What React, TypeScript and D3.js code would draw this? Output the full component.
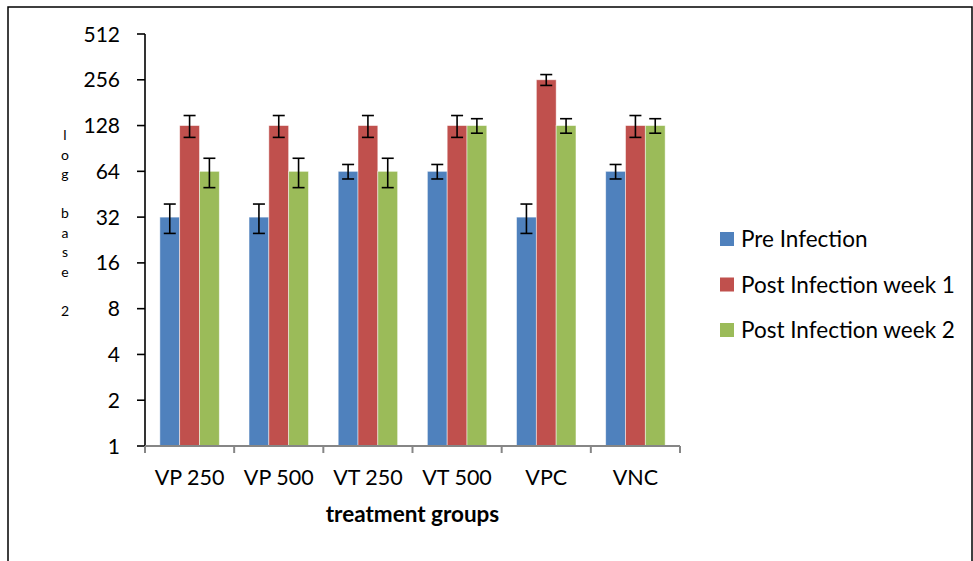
import React, { useEffect, useRef } from 'react';
import * as d3 from 'd3';

const categories = ['VP 250', 'VP 500', 'VT 250', 'VT 500', 'VPC', 'VNC'];
const seriesNames = ['Pre Infection', 'Post Infection week 1', 'Post Infection week 2'];
const preInfection = [32, 32, 64, 64, 32, 64];
const postWeek1 = [128, 128, 128, 128, 256, 128];
const postWeek2 = [64, 64, 64, 128, 128, 128];
const errPre = [7, 7, 7, 7, 7, 7];
const errWeek1 = [21, 21, 21, 21, 21, 21];
const errWeek2 = [14, 14, 14, 14, 14, 14];
const yTicks = [1, 2, 4, 8, 16, 32, 64, 128, 256, 512];
const yTitleLetters = ['l', 'o', 'g', '', 'b', 'a', 's', 'e', '', '2'];
const colors = ['#4F81BD', '#C0504D', '#9BBB59'];

const FONT = 'Lato, "Open Sans", sans-serif';

const App: React.FC = () => {
    const svgRef = useRef<SVGSVGElement>(null);

    useEffect(() => {
        if (!svgRef.current) return;
        const svg = d3.select(svgRef.current);
        svg.selectAll('*').remove();

        const left = 145;
        const right = 680;
        const top = 34;
        const bottom = 446;

        // outer frame, right/bottom run off the page
        svg.append('rect')
            .attr('x', 8)
            .attr('y', 7)
            .attr('width', 964)
            .attr('height', 620)
            .attr('fill', 'none')
            .attr('stroke', '#000')
            .attr('stroke-width', 1.5);

        const y = d3.scaleLog().base(2).domain([1, 512]).range([bottom, top]);
        const x0 = d3.scaleBand<string>().domain(categories).range([left, right]).padding(0);
        const bw = x0.bandwidth();
        const groupW = bw * 3 / 4.5;
        const off = bw * 0.75 / 4.5;
        const x1 = d3.scaleBand<string>().domain(seriesNames).range([off, off + groupW]);

        const rows = [
            { name: seriesNames[0], values: preInfection, errs: errPre },
            { name: seriesNames[1], values: postWeek1, errs: errWeek1 },
            { name: seriesNames[2], values: postWeek2, errs: errWeek2 },
        ];

        // bars
        rows.forEach((s, si) => {
            svg.append('g')
                .selectAll('rect')
                .data(categories)
                .join('rect')
                .attr('x', (c) => x0(c)! + x1(s.name)!)
                .attr('y', (c, i) => y(s.values[i]))
                .attr('width', x1.bandwidth())
                .attr('height', (c, i) => bottom - y(s.values[i]))
                .attr('fill', colors[si])
                .attr('stroke', '#fff')
                .attr('stroke-opacity', 0.6)
                .attr('stroke-width', 0.8);
        });

        // error bars
        const cap = 6;
        rows.forEach((s) => {
            const g = svg.append('g').attr('stroke', '#000').attr('stroke-width', 1.6);
            categories.forEach((c, i) => {
                const cx = x0(c)! + x1(s.name)! + x1.bandwidth() / 2;
                const hi = y(s.values[i] + s.errs[i]);
                const lo = y(s.values[i] - s.errs[i]);
                g.append('line').attr('x1', cx).attr('x2', cx).attr('y1', hi).attr('y2', lo);
                g.append('line').attr('x1', cx - cap).attr('x2', cx + cap).attr('y1', hi).attr('y2', hi);
                g.append('line').attr('x1', cx - cap).attr('x2', cx + cap).attr('y1', lo).attr('y2', lo);
            });
        });

        // y axis
        const yAxis = svg.append('g');
        yAxis.append('line')
            .attr('x1', left).attr('x2', left)
            .attr('y1', top).attr('y2', bottom)
            .attr('stroke', '#000').attr('stroke-width', 1.6);
        yAxis.selectAll('line.tick')
            .data(yTicks)
            .join('line')
            .attr('class', 'tick')
            .attr('x1', left - 8).attr('x2', left)
            .attr('y1', (d) => y(d)).attr('y2', (d) => y(d))
            .attr('stroke', '#000').attr('stroke-width', 1.6);
        yAxis.selectAll('text')
            .data(yTicks)
            .join('text')
            .attr('x', 120)
            .attr('y', (d) => y(d))
            .attr('dy', '0.36em')
            .attr('text-anchor', 'end')
            .attr('font-family', FONT)
            .attr('font-size', 21)
            .attr('fill', '#000')
            .text((d) => String(d));

        // x axis
        const xAxis = svg.append('g');
        xAxis.append('line')
            .attr('x1', left).attr('x2', right)
            .attr('y1', bottom).attr('y2', bottom)
            .attr('stroke', '#868686').attr('stroke-width', 2);
        const bounds = categories.map((c) => x0(c)!).concat([right]);
        xAxis.selectAll('line.tick')
            .data(bounds)
            .join('line')
            .attr('class', 'tick')
            .attr('x1', (d) => d).attr('x2', (d) => d)
            .attr('y1', bottom).attr('y2', bottom + 7)
            .attr('stroke', '#868686').attr('stroke-width', 2);
        xAxis.selectAll('text')
            .data(categories)
            .join('text')
            .attr('x', (c) => x0(c)! + bw / 2)
            .attr('y', 485)
            .attr('text-anchor', 'middle')
            .attr('font-family', FONT)
            .attr('font-size', 21.5)
            .attr('fill', '#000')
            .text((c) => c);

        svg.append('text')
            .attr('x', (left + right) / 2)
            .attr('y', 522)
            .attr('text-anchor', 'middle')
            .attr('font-family', FONT)
            .attr('font-weight', 'bold')
            .attr('font-size', 22.5)
            .attr('fill', '#000')
            .text('treatment groups');

        // stacked y title, one letter per row
        svg.append('g')
            .selectAll('text')
            .data(yTitleLetters)
            .join('text')
            .attr('x', 65)
            .attr('y', (d, i) => 140 + i * 19.5)
            .attr('text-anchor', 'middle')
            .attr('font-family', FONT)
            .attr('font-size', 14)
            .attr('fill', '#000')
            .text((d) => d);

        // legend
        const legend = svg.append('g');
        seriesNames.forEach((name, i) => {
            const cy = 239 + i * 45.5;
            legend.append('rect')
                .attr('x', 720).attr('y', cy - 7)
                .attr('width', 14).attr('height', 14)
                .attr('fill', colors[i]);
            legend.append('text')
                .attr('x', 741).attr('y', cy)
                .attr('dy', '0.36em')
                .attr('font-family', FONT)
                .attr('font-size', 22.5)
                .attr('fill', '#000')
                .text(name);
        });
    }, []);

    return (
        <svg
            ref={svgRef}
            width={973}
            height={561}
            style={{ position: 'absolute', left: 0, top: 0, background: '#fff' }}
        />
    );
};

export default App;
